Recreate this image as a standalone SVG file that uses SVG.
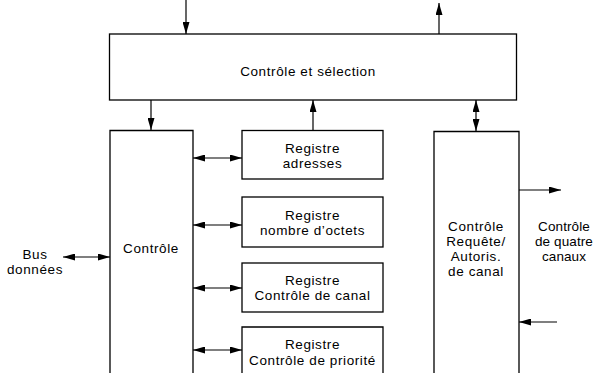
<svg xmlns="http://www.w3.org/2000/svg" width="595" height="373" viewBox="0 0 595 373">
<style>
.box{fill:#fff;stroke:#000;stroke-width:1.3}
.t{font-family:"Liberation Sans",Arial,sans-serif;font-size:13.5px;letter-spacing:0.6px;fill:#000;text-anchor:middle}
.n{letter-spacing:0.1px}
.c{stroke:#000;stroke-width:1.2;fill:none}
</style>
<defs>
<marker id="ah" viewBox="0 0 12 7" refX="12" refY="3.5" markerWidth="12" markerHeight="7" markerUnits="userSpaceOnUse" orient="auto-start-reverse">
<path d="M0,0 L12,3.5 L0,7 Z" fill="#000"/>
</marker>
</defs>
<rect width="595" height="373" fill="#fff"/>
<g id="top">
<rect class="box" x="109.5" y="34" width="407" height="66"/>
<text class="t" x="308" y="76">Contrôle et sélection</text>
</g>
<g id="controle">
<path class="box" d="M110,380 V130.5 H193 V380"/>
<text class="t" x="151" y="253">Contrôle</text>
</g>
<g id="reg1">
<rect class="box" x="242" y="130.5" width="141" height="48.5"/>
<text class="t" x="312.5" y="153">Registre</text>
<text class="t" x="312.5" y="168">adresses</text>
</g>
<g id="reg2">
<rect class="box" x="242" y="197" width="141" height="50"/>
<text class="t" x="312.5" y="220">Registre</text>
<text class="t" x="312.5" y="235">nombre d’octets</text>
</g>
<g id="reg3">
<rect class="box" x="242" y="263" width="141" height="49"/>
<text class="t" x="312.5" y="285">Registre</text>
<text class="t" x="312.5" y="300">Contrôle de canal</text>
</g>
<g id="reg4">
<path class="box" d="M242,380 V327 H383 V380"/>
<text class="t" x="312.5" y="349">Registre</text>
<text class="t" x="312.5" y="365">Contrôle de priorité</text>
</g>
<g id="canal">
<path class="box" d="M434,380 V131.5 H519 V380"/>
<text class="t" x="476" y="231">Contrôle</text>
<text class="t" x="476" y="246">Requête/</text>
<text class="t" x="476" y="261">Autoris.</text>
<text class="t" x="476" y="276">de canal</text>
</g>
<g id="bus">
<text class="t" x="35" y="259">Bus</text>
<text class="t" x="35" y="274">données</text>
</g>
<g id="quatre">
<text class="t n" x="564" y="231">Contrôle</text>
<text class="t n" x="564" y="246">de quatre</text>
<text class="t n" x="564" y="261">canaux</text>
</g>
<g id="connectors">
<line class="c" x1="186" y1="0" x2="186" y2="34" marker-end="url(#ah)"/>
<line class="c" x1="439" y1="34" x2="439" y2="3" marker-end="url(#ah)"/>
<line class="c" x1="151" y1="100" x2="151" y2="130" marker-end="url(#ah)"/>
<line class="c" x1="313" y1="130" x2="313" y2="100" marker-end="url(#ah)"/>
<line class="c" x1="476" y1="100" x2="476" y2="131" marker-start="url(#ah)" marker-end="url(#ah)"/>
<line class="c" x1="193" y1="158" x2="242" y2="158" marker-start="url(#ah)" marker-end="url(#ah)"/>
<line class="c" x1="193" y1="225" x2="242" y2="225" marker-start="url(#ah)" marker-end="url(#ah)"/>
<line class="c" x1="193" y1="288" x2="242" y2="288" marker-start="url(#ah)" marker-end="url(#ah)"/>
<line class="c" x1="193" y1="350" x2="242" y2="350" marker-start="url(#ah)" marker-end="url(#ah)"/>
<line class="c" x1="63" y1="257" x2="110" y2="257" marker-start="url(#ah)" marker-end="url(#ah)"/>
<line class="c" x1="519" y1="190" x2="561" y2="190" marker-end="url(#ah)"/>
<line class="c" x1="557" y1="322" x2="519" y2="322" marker-end="url(#ah)"/>
</g>
</svg>
